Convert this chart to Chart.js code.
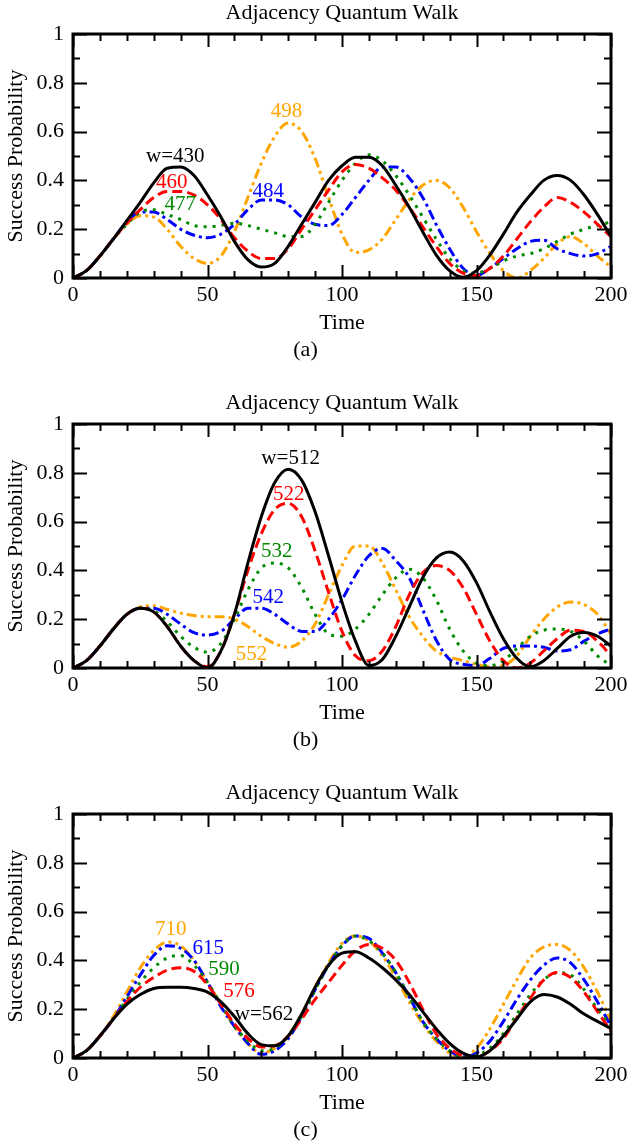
<!DOCTYPE html>
<html>
<head>
<meta charset="utf-8">
<script src="https://cdn.jsdelivr.net/npm/chart.js@4.4.1/dist/chart.umd.min.js"></script>
<style>
  body { margin: 0; background: #fff; }
  .panel { position: absolute; left: 0; width: 631px; height: 366px; }
</style>
</head>
<body>
<div class="panel" style="top:0"><canvas id="chartA" width="631" height="366"></canvas></div>
<div class="panel" style="top:390px"><canvas id="chartB" width="631" height="366"></canvas></div>
<div class="panel" style="top:780px"><canvas id="chartC" width="631" height="366"></canvas></div>
<script>
const time = [0, 5, 10, 15, 20, 25, 30, 35, 40, 45, 50, 55, 60, 65, 70, 75, 80, 85, 90, 95, 100,
  105, 110, 115, 120, 125, 130, 135, 140, 145, 150, 155, 160, 165, 170, 175, 180, 185, 190, 195, 200];

// panel (a)
const w430 = [0, 0.03, 0.09, 0.16, 0.235, 0.31, 0.39, 0.45, 0.455, 0.42, 0.34, 0.25, 0.15, 0.075, 0.045, 0.06, 0.13, 0.22, 0.31, 0.40, 0.46,
  0.495, 0.495, 0.46, 0.38, 0.29, 0.19, 0.095, 0.03, 0.003, 0.03, 0.095, 0.18, 0.27, 0.34, 0.40, 0.42, 0.40, 0.34, 0.26, 0.17];
const w460 = [0, 0.03, 0.09, 0.16, 0.225, 0.28, 0.33, 0.355, 0.355, 0.34, 0.30, 0.24, 0.165, 0.11, 0.08, 0.08, 0.12, 0.20, 0.28, 0.36, 0.435,
  0.465, 0.45, 0.41, 0.36, 0.29, 0.21, 0.13, 0.06, 0.02, 0.01, 0.04, 0.09, 0.16, 0.23, 0.29, 0.33, 0.31, 0.27, 0.22, 0.17];
const w477 = [0, 0.03, 0.09, 0.16, 0.22, 0.27, 0.28, 0.26, 0.24, 0.215, 0.21, 0.215, 0.225, 0.215, 0.2, 0.185, 0.17, 0.17, 0.22, 0.31, 0.40,
  0.47, 0.505, 0.48, 0.42, 0.34, 0.25, 0.16, 0.08, 0.03, 0.02, 0.04, 0.07, 0.09, 0.10, 0.12, 0.15, 0.18, 0.20, 0.215, 0.23];
const w484 = [0, 0.03, 0.09, 0.16, 0.23, 0.27, 0.27, 0.24, 0.20, 0.175, 0.165, 0.18, 0.22, 0.28, 0.32, 0.32, 0.30, 0.25, 0.22, 0.215, 0.26,
  0.33, 0.40, 0.455, 0.455, 0.41, 0.33, 0.22, 0.12, 0.04, 0.01, 0.04, 0.08, 0.12, 0.15, 0.155, 0.12, 0.10, 0.09, 0.10, 0.13];
const w498 = [0, 0.03, 0.09, 0.16, 0.22, 0.255, 0.25, 0.20, 0.13, 0.08, 0.06, 0.09, 0.19, 0.33, 0.47, 0.58, 0.635, 0.60, 0.49, 0.33, 0.18,
  0.105, 0.115, 0.16, 0.24, 0.32, 0.38, 0.40, 0.37, 0.29, 0.19, 0.10, 0.03, 0.0, 0.03, 0.08, 0.14, 0.17, 0.14, 0.09, 0.045];

// panel (b)
const w512 = [0, 0.03, 0.09, 0.16, 0.22, 0.245, 0.23, 0.17, 0.09, 0.03, 0.0, 0.07, 0.22, 0.43, 0.62, 0.76, 0.815, 0.77, 0.64, 0.46, 0.27,
  0.11, 0.01, 0.035, 0.13, 0.25, 0.37, 0.45, 0.475, 0.44, 0.35, 0.23, 0.12, 0.04, 0.005, 0.03, 0.08, 0.13, 0.145, 0.13, 0.09];
const w522 = [0, 0.03, 0.09, 0.16, 0.22, 0.245, 0.23, 0.17, 0.09, 0.03, 0.005, 0.07, 0.22, 0.40, 0.55, 0.65, 0.675, 0.62, 0.48, 0.31, 0.15,
  0.05, 0.03, 0.07, 0.17, 0.30, 0.39, 0.42, 0.40, 0.33, 0.22, 0.11, 0.03, 0.0, 0.02, 0.07, 0.12, 0.155, 0.15, 0.11, 0.05];
const w532 = [0, 0.03, 0.09, 0.16, 0.22, 0.245, 0.235, 0.19, 0.13, 0.085, 0.065, 0.10, 0.20, 0.32, 0.41, 0.43, 0.41, 0.33, 0.22, 0.14, 0.13,
  0.16, 0.22, 0.30, 0.37, 0.405, 0.37, 0.28, 0.16, 0.07, 0.02, 0.01, 0.03, 0.08, 0.13, 0.155, 0.16, 0.15, 0.11, 0.05, 0.01];
const w542 = [0, 0.03, 0.09, 0.16, 0.22, 0.245, 0.245, 0.22, 0.18, 0.145, 0.135, 0.15, 0.20, 0.245, 0.245, 0.22, 0.18, 0.15, 0.15, 0.20, 0.28,
  0.38, 0.46, 0.49, 0.44, 0.37, 0.24, 0.115, 0.035, 0.015, 0.01, 0.04, 0.08, 0.09, 0.09, 0.085, 0.07, 0.075, 0.11, 0.14, 0.16];
const w552 = [0, 0.03, 0.09, 0.16, 0.22, 0.25, 0.255, 0.24, 0.225, 0.215, 0.21, 0.21, 0.20, 0.17, 0.13, 0.10, 0.085, 0.11, 0.18, 0.30, 0.42,
  0.50, 0.50, 0.43, 0.32, 0.21, 0.13, 0.07, 0.045, 0.03, 0.015, 0.005, 0.01, 0.05, 0.13, 0.20, 0.25, 0.27, 0.26, 0.22, 0.14];

// panel (c)
const w562 = [0, 0.03, 0.09, 0.16, 0.22, 0.26, 0.285, 0.29, 0.29, 0.285, 0.27, 0.23, 0.17, 0.10, 0.055, 0.05, 0.09, 0.18, 0.29, 0.38, 0.43,
  0.435, 0.41, 0.37, 0.32, 0.26, 0.19, 0.12, 0.06, 0.02, 0.005, 0.03, 0.09, 0.16, 0.23, 0.26, 0.25, 0.22, 0.18, 0.15, 0.12];
const w576 = [0, 0.03, 0.09, 0.16, 0.23, 0.29, 0.33, 0.36, 0.37, 0.355, 0.30, 0.22, 0.14, 0.08, 0.045, 0.05, 0.09, 0.16, 0.24, 0.31, 0.38,
  0.44, 0.465, 0.45, 0.40, 0.31, 0.20, 0.10, 0.04, 0.01, 0.005, 0.03, 0.08, 0.165, 0.245, 0.32, 0.35, 0.33, 0.27, 0.19, 0.11];
const w590 = [0, 0.03, 0.09, 0.16, 0.24, 0.31, 0.37, 0.41, 0.42, 0.38, 0.31, 0.22, 0.13, 0.07, 0.03, 0.04, 0.09, 0.17, 0.28, 0.38, 0.46,
  0.50, 0.48, 0.43, 0.35, 0.25, 0.15, 0.08, 0.03, 0.005, 0.01, 0.04, 0.10, 0.18, 0.26, 0.32, 0.35, 0.34, 0.28, 0.20, 0.13];
const w615 = [0, 0.03, 0.09, 0.16, 0.25, 0.34, 0.42, 0.46, 0.45, 0.40, 0.31, 0.21, 0.13, 0.06, 0.015, 0.03, 0.08, 0.17, 0.28, 0.38, 0.46,
  0.50, 0.49, 0.43, 0.35, 0.25, 0.15, 0.08, 0.03, 0.005, 0.02, 0.07, 0.15, 0.24, 0.32, 0.38, 0.41, 0.39, 0.32, 0.23, 0.13];
const w710 = [0, 0.03, 0.09, 0.17, 0.27, 0.37, 0.44, 0.475, 0.46, 0.40, 0.31, 0.22, 0.13, 0.06, 0.02, 0.04, 0.09, 0.18, 0.29, 0.39, 0.47,
  0.50, 0.48, 0.42, 0.33, 0.23, 0.14, 0.07, 0.02, 0.005, 0.04, 0.12, 0.22, 0.32, 0.41, 0.455, 0.465, 0.44, 0.37, 0.27, 0.15];

const BLACK = '#000000', RED = '#ff0000', GREEN = '#008a00', BLUE = '#0000ff', ORANGE = '#ffa500';
const SERIF = '"Liberation Serif", "Times New Roman", serif';

Chart.defaults.font.family = SERIF;
Chart.defaults.color = '#000';

function line(values, color, dash) {
  return {
    data: values.map((v, i) => ({ x: time[i], y: v })),
    borderColor: color,
    borderDash: dash,
    borderWidth: 3,
    pointRadius: 0,
    fill: false,
    cubicInterpolationMode: 'monotone',
  };
}

// frame with inward ticks on all four sides
const framePlugin = {
  id: 'frame',
  afterDatasetsDraw(chart) {
    const { ctx, chartArea: a, scales: { x, y } } = chart;
    ctx.save();
    ctx.strokeStyle = '#000';
    ctx.lineWidth = 2;
    ctx.beginPath();
    for (let t = 0; t <= 200; t += 10) {
      const px = Math.round(x.getPixelForValue(t)) + 0.5;
      const len = t % 50 === 0 ? 13 : 7;
      ctx.moveTo(px, a.bottom); ctx.lineTo(px, a.bottom - len);
      ctx.moveTo(px, a.top); ctx.lineTo(px, a.top + len);
    }
    for (let i = 0; i <= 10; i++) {
      const py = Math.round(y.getPixelForValue(i / 10)) + 0.5;
      const len = i % 2 === 0 ? 14 : 7;
      ctx.moveTo(a.left, py); ctx.lineTo(a.left + len, py);
      ctx.moveTo(a.right, py); ctx.lineTo(a.right - len, py);
    }
    ctx.stroke();
    ctx.lineWidth = 3;
    ctx.strokeRect(a.left, a.top, a.right - a.left, a.bottom - a.top);
    ctx.restore();
  },
};

// curve labels placed in data coordinates
const labelPlugin = {
  id: 'walkLabels',
  afterDatasetsDraw(chart, args, opts) {
    const { ctx, scales: { x, y } } = chart;
    ctx.save();
    ctx.font = '21px ' + SERIF;
    ctx.textAlign = 'center';
    ctx.textBaseline = 'middle';
    for (const l of opts.items || []) {
      ctx.fillStyle = l.color;
      ctx.fillText(l.text, x.getPixelForValue(l.t), y.getPixelForValue(l.v));
    }
    ctx.restore();
  },
};

function makeChart(id, tag, datasets, items) {
  return new Chart(document.getElementById(id), {
    type: 'line',
    data: { datasets },
    plugins: [framePlugin, labelPlugin],
    options: {
      responsive: false,
      animation: false,
      layout: { padding: { left: 0, right: 20, top: 0, bottom: 0 } },
      plugins: {
        legend: { display: false },
        tooltip: { enabled: false },
        title: {
          display: true, text: 'Adjacency Quantum Walk', fullSize: false,
          font: { size: 22, weight: 'normal' }, padding: { top: 0, bottom: 7.6 },
        },
        subtitle: {
          display: true, text: tag, position: 'bottom',
          font: { size: 22, weight: 'normal' }, padding: { top: 0, bottom: 2.8 },
        },
        walkLabels: { items },
      },
      scales: {
        x: {
          type: 'linear', min: 0, max: 200,
          ticks: { stepSize: 50, font: { size: 22 }, padding: 3.8, maxRotation: 0 },
          grid: { display: false, drawTicks: false },
          border: { display: false },
          title: { display: true, text: 'Time', font: { size: 22 }, padding: { top: 3.6, bottom: 0 } },
          afterFit(s) { s.height = 58.8; s.paddingLeft = 0; s.paddingRight = 0; },
        },
        y: {
          min: 0, max: 1,
          ticks: { stepSize: 0.2, font: { size: 22 }, padding: 9, callback: v => String(+v.toFixed(1)) },
          grid: { display: false, drawTicks: false },
          border: { display: false },
          title: { display: true, text: 'Success Probability', font: { size: 22 }, padding: { top: 3, bottom: 0 } },
          afterFit(s) { s.width = 73; s.paddingTop = 0; s.paddingBottom = 0; },
        },
      },
    },
  });
}

const SOLID = [], DASH = [10, 5], DOT = [3, 6], DASHDOT = [10, 4, 3, 4], DASHDOTDOT = [10, 4, 3, 4, 3, 4];

makeChart('chartA', '(a)', [
  line(w430, BLACK, SOLID), line(w460, RED, DASH), line(w477, GREEN, DOT),
  line(w484, BLUE, DASHDOT), line(w498, ORANGE, DASHDOTDOT),
], [
  { text: 'w=430', t: 38, v: 0.5, color: BLACK },
  { text: '460', t: 36.7, v: 0.39, color: RED },
  { text: '477', t: 39.9, v: 0.30, color: GREEN },
  { text: '484', t: 72.6, v: 0.355, color: BLUE },
  { text: '498', t: 79.4, v: 0.683, color: ORANGE },
]);

makeChart('chartB', '(b)', [
  line(w512, BLACK, SOLID), line(w522, RED, DASH), line(w532, GREEN, DOT),
  line(w542, BLUE, DASHDOT), line(w552, ORANGE, DASHDOTDOT),
], [
  { text: 'w=512', t: 80.9, v: 0.86, color: BLACK },
  { text: '522', t: 80.2, v: 0.71, color: RED },
  { text: '532', t: 75.7, v: 0.478, color: GREEN },
  { text: '542', t: 72.6, v: 0.287, color: BLUE },
  { text: '552', t: 66.4, v: 0.057, color: ORANGE },
]);

makeChart('chartC', '(c)', [
  line(w562, BLACK, SOLID), line(w576, RED, DASH), line(w590, GREEN, DOT),
  line(w615, BLUE, DASHDOT), line(w710, ORANGE, DASHDOTDOT),
], [
  { text: '710', t: 36.3, v: 0.526, color: ORANGE },
  { text: '615', t: 50.3, v: 0.45, color: BLUE },
  { text: '590', t: 56.1, v: 0.362, color: GREEN },
  { text: '576', t: 61.7, v: 0.273, color: RED },
  { text: 'w=562', t: 71, v: 0.177, color: BLACK },
]);
</script>
</body>
</html>
